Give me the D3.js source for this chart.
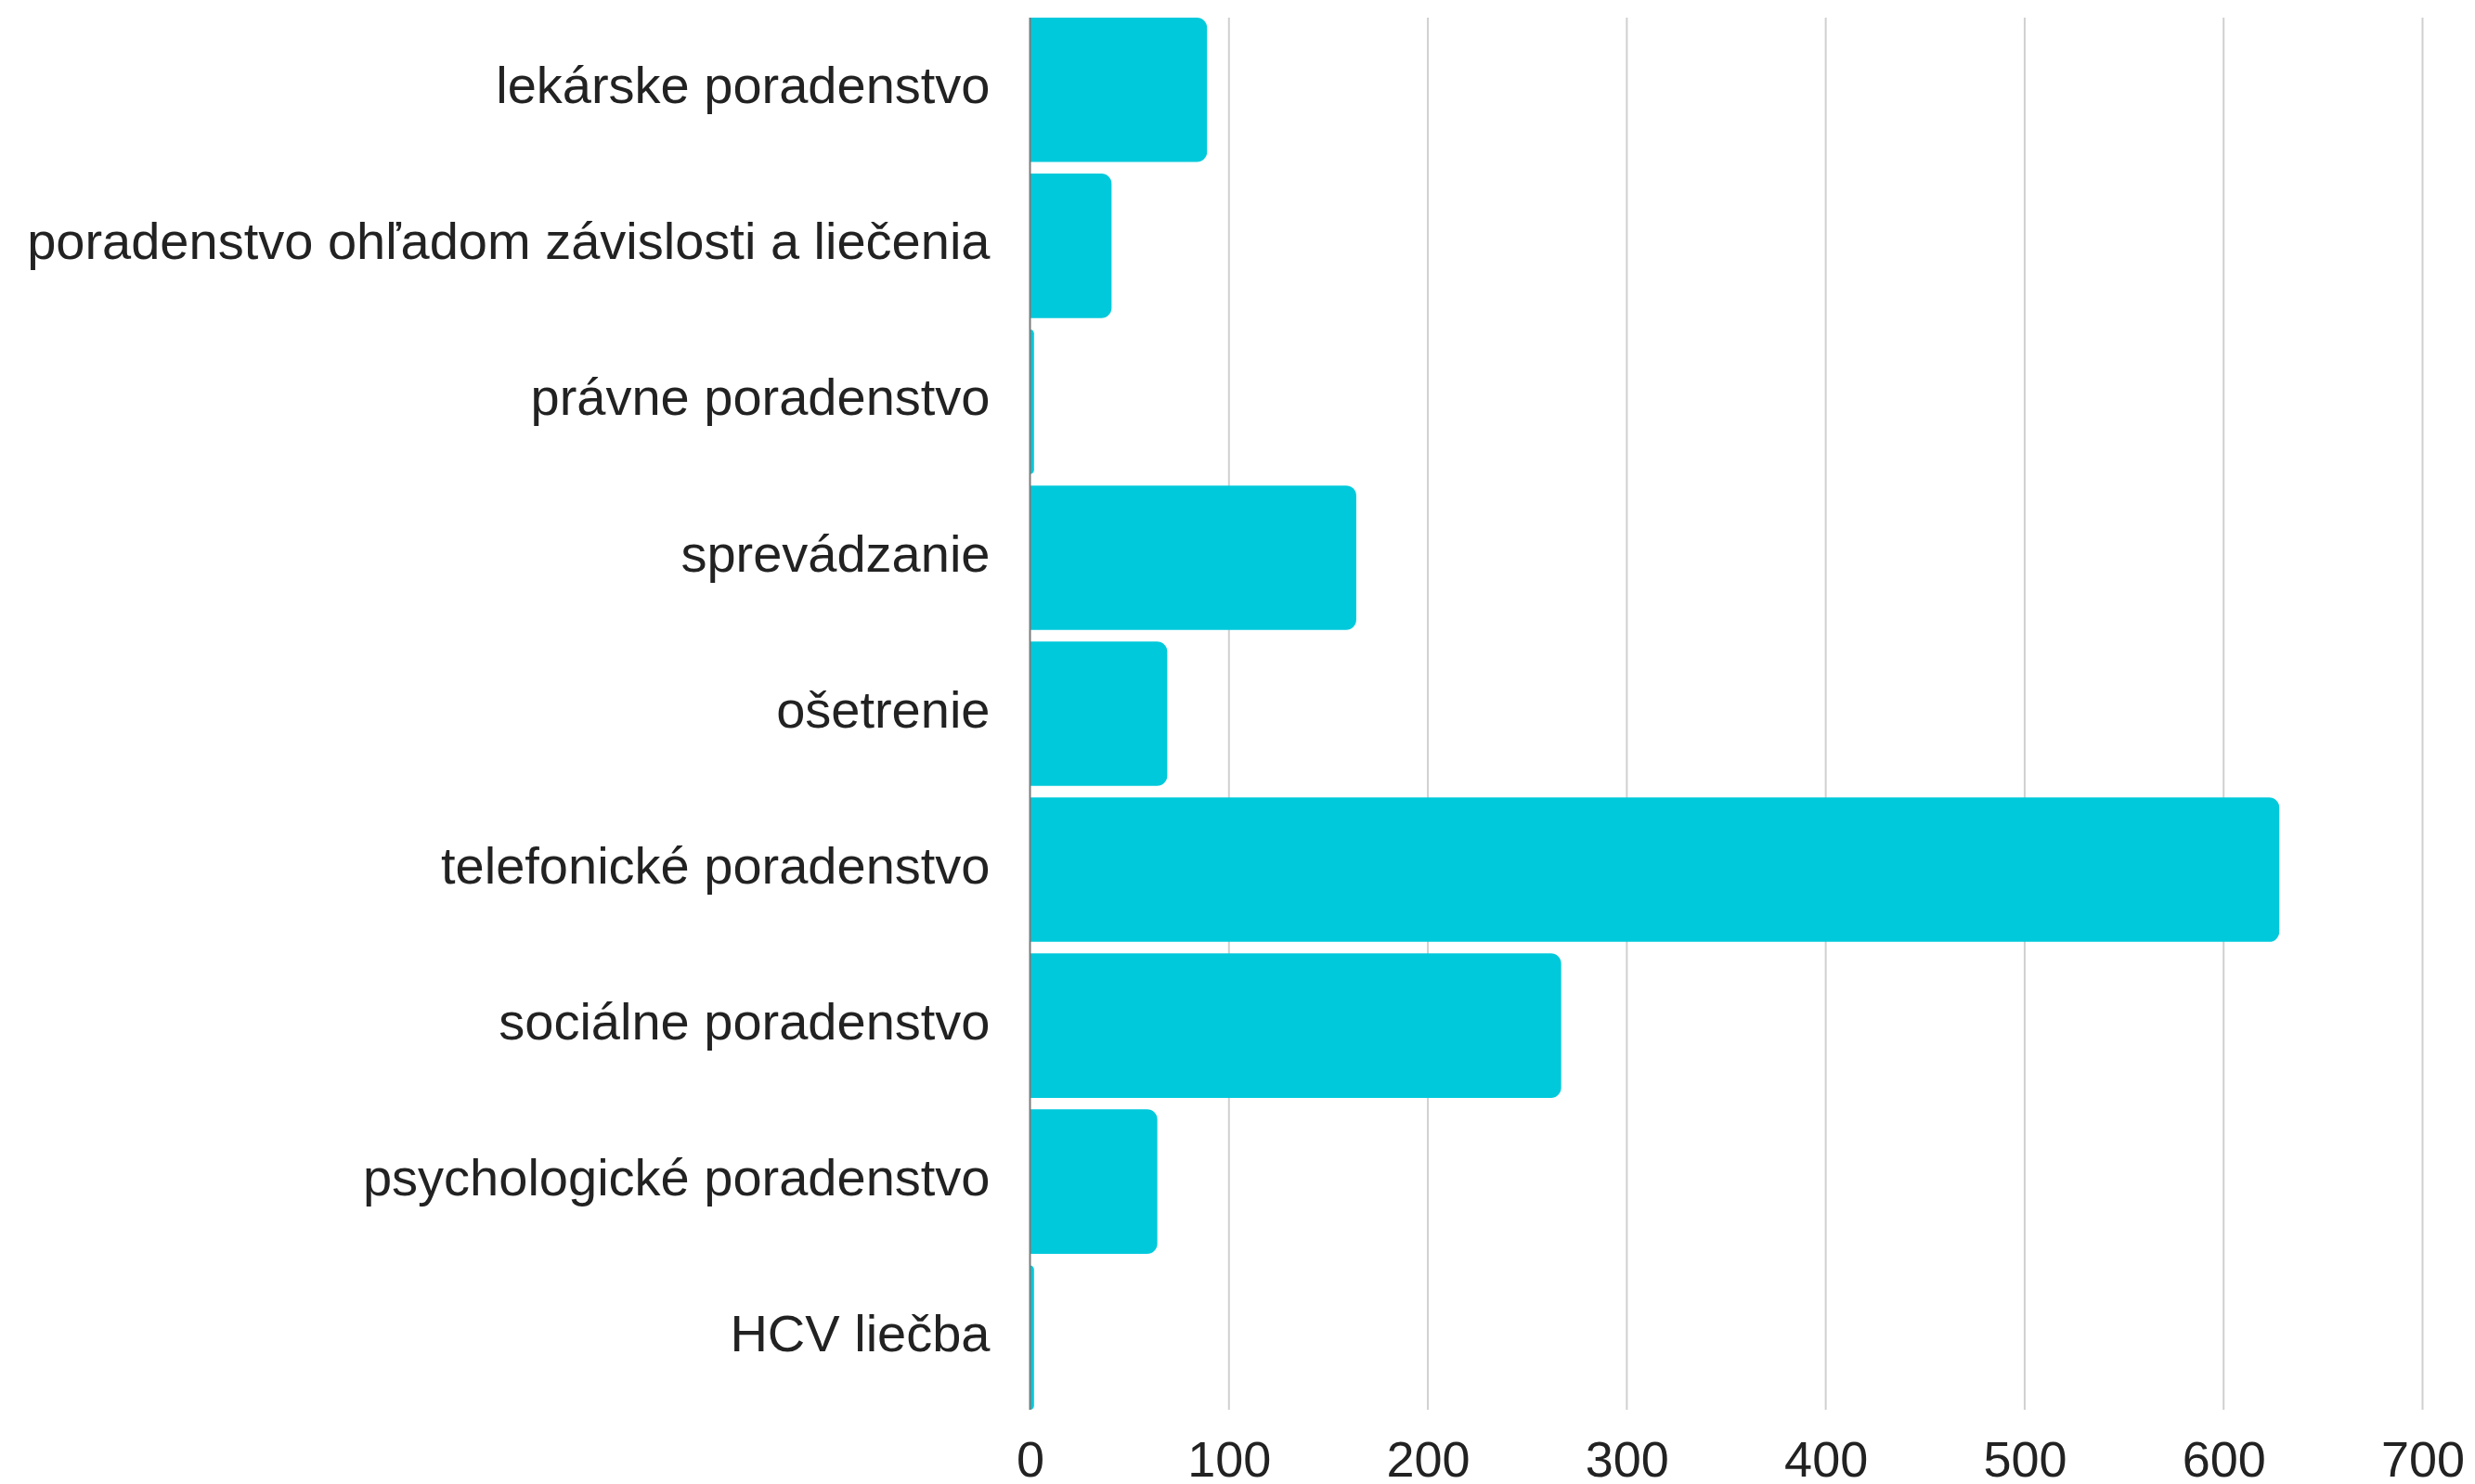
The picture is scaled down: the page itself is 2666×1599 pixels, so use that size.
<!DOCTYPE html>
<html>
<head>
<meta charset="utf-8">
<script src="https://cdn.jsdelivr.net/npm/d3@7"></script>
<style>
  body { margin: 0; background: #fff; }
  text { font-family: "Liberation Sans", Arial, sans-serif; fill: #222; }
</style>
</head>
<body>
<svg id="chart" width="2666" height="1599"></svg>
<script>
// Categories, top to bottom
var categories = [
    "lekárske poradenstvo",
    "poradenstvo ohľadom závislosti a liečenia",
    "právne poradenstvo",
    "sprevádzanie",
    "ošetrenie",
    "telefonické poradenstvo",
    "sociálne poradenstvo",
    "psychologické poradenstvo",
    "HCV liečba"
];

// Counts
var values = [89, 41, 2, 164, 69, 628, 267, 64, 2];

// X axis ticks
var xTicks = [0, 100, 200, 300, 400, 500, 600, 700];

var svg = d3.select("#chart");

// plot area (note: "top" is taken by window.top, so use other names)
var plotLeft = 1109.5, plotRight = 2609.5;
var plotTop = 19, plotBottom = 1519;

var x = d3.scaleLinear().domain([0, 700]).range([plotLeft, plotRight]);

// gap between bars is ~12px, bars ~156px tall
var y = d3.scaleBand()
    .domain(categories)
    .range([plotTop - 6.25, plotBottom + 6.25])
    .paddingInner(0.074)
    .paddingOuter(0.037);

// Gridlines (drawn first, under the bars)
svg.append("g").attr("class", "grid")
    .selectAll("line")
    .data(xTicks.slice(1))
    .enter().append("line")
    .attr("x1", function (d) { return x(d); })
    .attr("x2", function (d) { return x(d); })
    .attr("y1", plotTop)
    .attr("y2", plotBottom)
    .style("stroke", "#d0d0d0")
    .style("stroke-width", 2);

// Bars with rounded right corners
function barPath(d, i) {
    var x0 = x(0), x1 = x(d), y0 = y(categories[i]), h = y.bandwidth();
    var w = x1 - x0;
    var r = Math.min(11, w, h / 2);
    return "M" + x0 + "," + y0 +
        "H" + (x1 - r) +
        "A" + r + "," + r + " 0 0 1 " + x1 + "," + (y0 + r) +
        "V" + (y0 + h - r) +
        "A" + r + "," + r + " 0 0 1 " + (x1 - r) + "," + (y0 + h) +
        "H" + x0 + "Z";
}

svg.append("g").attr("class", "bars")
    .selectAll("path")
    .data(values)
    .enter().append("path")
    .attr("d", barPath)
    .style("fill", "#00c9db");

// Zero line
svg.append("line")
    .attr("x1", x(0)).attr("x2", x(0))
    .attr("y1", plotTop).attr("y2", plotBottom)
    .style("stroke", "#7a7a7a")
    .style("stroke-width", 2);

// X axis labels
var xAxis = d3.axisBottom(x).tickValues(xTicks).tickSize(0).tickPadding(0);
var gx = svg.append("g")
    .attr("transform", "translate(0," + 1591 + ")")
    .call(xAxis);
gx.select(".domain").remove();
gx.selectAll("text")
    .attr("dy", 0)
    .attr("y", 0)
    .style("font-size", "54px")
    .style("font-family", "Liberation Sans, Arial, sans-serif")
    .style("fill", "#222");

// Y axis labels
var yAxis = d3.axisLeft(y).tickSize(0).tickPadding(43);
var gy = svg.append("g")
    .attr("transform", "translate(" + x(0) + ",0)")
    .call(yAxis);
gy.select(".domain").remove();
gy.selectAll("text")
    .attr("dy", "0.26em")
    .style("font-size", "56px")
    .style("font-family", "Liberation Sans, Arial, sans-serif")
    .style("fill", "#222");
</script>
</body>
</html>
